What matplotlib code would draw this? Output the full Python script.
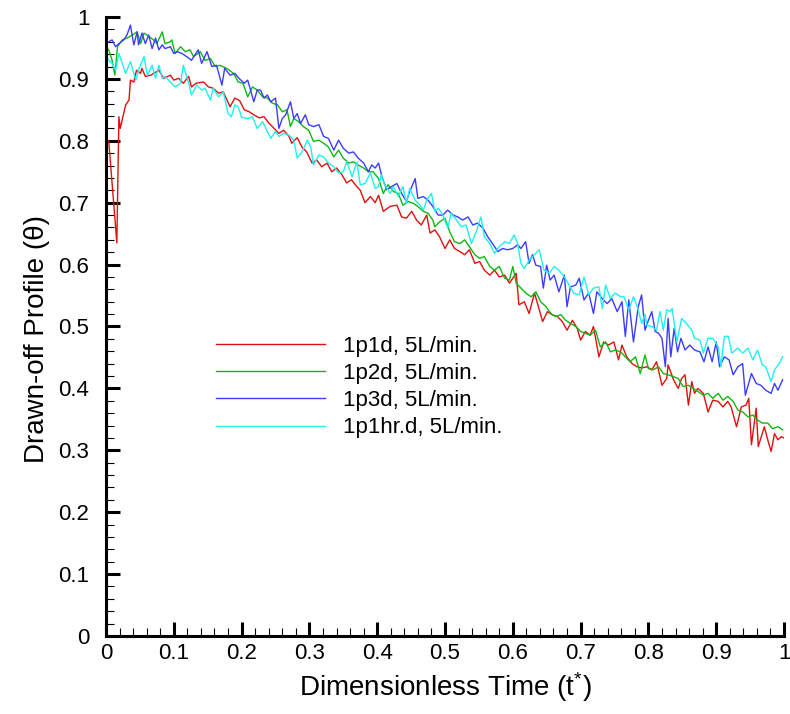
import matplotlib
matplotlib.use("Agg")
import matplotlib.pyplot as plt
from matplotlib.ticker import MultipleLocator, FuncFormatter

# -----------------------------
# DATA
# -----------------------------
t_1p1d = [0.0, 0.004, 0.016, 0.019, 0.021, 0.029, 0.034, 0.036, 0.041, 0.045,
          0.051, 0.053, 0.058, 0.066, 0.075, 0.078, 0.085, 0.095, 0.1, 0.107,
          0.114, 0.122, 0.126, 0.133, 0.144, 0.151, 0.158, 0.166, 0.173, 0.183,
          0.19, 0.197, 0.204, 0.211, 0.218, 0.226, 0.233, 0.24, 0.248, 0.255,
          0.262, 0.27, 0.274, 0.282, 0.289, 0.296, 0.304, 0.311, 0.318, 0.326,
          0.333, 0.34, 0.348, 0.355, 0.362, 0.37, 0.375, 0.382, 0.39, 0.397,
          0.402, 0.409, 0.419, 0.429, 0.436, 0.443, 0.451, 0.458, 0.465, 0.473,
          0.478, 0.485, 0.492, 0.5, 0.507, 0.514, 0.522, 0.529, 0.536, 0.544,
          0.551, 0.558, 0.566, 0.573, 0.58, 0.588, 0.595, 0.605, 0.609, 0.617,
          0.624, 0.632, 0.639, 0.644, 0.651, 0.658, 0.666, 0.673, 0.68, 0.688,
          0.695, 0.7, 0.707, 0.714, 0.719, 0.727, 0.734, 0.741, 0.749, 0.756,
          0.761, 0.768, 0.776, 0.783, 0.79, 0.798, 0.805, 0.812, 0.82, 0.827,
          0.829, 0.837, 0.844, 0.849, 0.854, 0.859, 0.864, 0.868, 0.873, 0.881,
          0.888, 0.895, 0.903, 0.91, 0.917, 0.922, 0.93, 0.937, 0.944, 0.948,
          0.952, 0.959, 0.962, 0.971, 0.976, 0.981, 0.986, 0.991, 0.996, 1.0]
y_1p1d = [0.80, 0.80, 0.635, 0.839, 0.82, 0.858, 0.866, 0.898, 0.895, 0.914,
          0.909, 0.917, 0.904, 0.906, 0.912, 0.914, 0.901, 0.906, 0.898, 0.901,
          0.893, 0.904, 0.887, 0.893, 0.895, 0.887, 0.885, 0.877, 0.879, 0.855,
          0.869, 0.865, 0.85, 0.847, 0.842, 0.837, 0.839, 0.829, 0.82, 0.812,
          0.817, 0.807, 0.796, 0.805, 0.79, 0.782, 0.764, 0.769, 0.758, 0.764,
          0.75, 0.756, 0.745, 0.732, 0.737, 0.726, 0.72, 0.70, 0.71, 0.70,
          0.712, 0.686, 0.694, 0.696, 0.677, 0.675, 0.686, 0.672, 0.664, 0.68,
          0.651, 0.656, 0.645, 0.626, 0.64, 0.626, 0.621, 0.616, 0.624, 0.602,
          0.605, 0.591, 0.583, 0.591, 0.58, 0.583, 0.57, 0.586, 0.535, 0.54,
          0.521, 0.554, 0.527, 0.508, 0.524, 0.519, 0.516, 0.508, 0.494, 0.51,
          0.497, 0.478, 0.492, 0.486, 0.50, 0.451, 0.475, 0.47, 0.475, 0.446,
          0.47, 0.451, 0.44, 0.435, 0.433, 0.435, 0.43, 0.443, 0.405, 0.416,
          0.438, 0.414, 0.40, 0.416, 0.422, 0.373, 0.411, 0.392, 0.40, 0.392,
          0.362, 0.381, 0.379, 0.37, 0.379, 0.37, 0.338, 0.37, 0.373, 0.384,
          0.309, 0.368, 0.306, 0.338, 0.317, 0.298, 0.327, 0.317, 0.322, 0.32]

t_1p2d = [0.0, 0.004, 0.009, 0.013, 0.017, 0.024, 0.031, 0.039, 0.046, 0.051,
          0.056, 0.063, 0.07, 0.075, 0.083, 0.087, 0.095, 0.097, 0.102, 0.11,
          0.117, 0.124, 0.129, 0.139, 0.146, 0.154, 0.161, 0.168, 0.178, 0.188,
          0.195, 0.202, 0.209, 0.216, 0.223, 0.231, 0.238, 0.245, 0.253, 0.26,
          0.267, 0.272, 0.277, 0.284, 0.291, 0.299, 0.306, 0.314, 0.321, 0.328,
          0.336, 0.343, 0.35, 0.358, 0.365, 0.372, 0.38, 0.387, 0.394, 0.402,
          0.409, 0.416, 0.424, 0.431, 0.438, 0.446, 0.453, 0.46, 0.468, 0.475,
          0.482, 0.485, 0.492, 0.5, 0.507, 0.514, 0.522, 0.529, 0.536, 0.544,
          0.551, 0.558, 0.566, 0.573, 0.58, 0.588, 0.595, 0.6, 0.605, 0.612,
          0.619, 0.627, 0.634, 0.641, 0.649, 0.656, 0.663, 0.671, 0.678, 0.685,
          0.693, 0.7, 0.707, 0.714, 0.722, 0.729, 0.737, 0.744, 0.751, 0.759,
          0.766, 0.773, 0.781, 0.788, 0.795, 0.8, 0.807, 0.815, 0.822, 0.829,
          0.837, 0.844, 0.851, 0.859, 0.866, 0.873, 0.881, 0.888, 0.895, 0.903,
          0.91, 0.917, 0.925, 0.932, 0.939, 0.947, 0.954, 0.961, 0.968, 0.976,
          0.983, 0.991, 0.998]
y_1p2d = [0.95, 0.947, 0.93, 0.906, 0.952, 0.963, 0.966, 0.971, 0.976, 0.957,
          0.974, 0.969, 0.963, 0.957, 0.976, 0.957, 0.96, 0.963, 0.941, 0.952,
          0.944, 0.947, 0.936, 0.944, 0.93, 0.933, 0.92, 0.922, 0.917, 0.909,
          0.895, 0.893, 0.871, 0.887, 0.882, 0.871, 0.869, 0.861, 0.858, 0.847,
          0.85, 0.823, 0.836, 0.831, 0.823, 0.817, 0.799, 0.801, 0.796, 0.79,
          0.774, 0.785, 0.772, 0.764, 0.766, 0.761, 0.756, 0.75, 0.75, 0.739,
          0.715, 0.729, 0.718, 0.715, 0.696, 0.702, 0.699, 0.694, 0.686, 0.683,
          0.672, 0.661, 0.669, 0.675, 0.653, 0.637, 0.634, 0.64, 0.629, 0.616,
          0.61, 0.613, 0.597, 0.591, 0.597, 0.578, 0.575, 0.597, 0.57, 0.562,
          0.554, 0.548, 0.556, 0.54, 0.532, 0.521, 0.516, 0.519, 0.51, 0.505,
          0.50, 0.492, 0.489, 0.486, 0.494, 0.467, 0.475, 0.459, 0.462, 0.459,
          0.451, 0.443, 0.451, 0.424, 0.454, 0.432, 0.43, 0.435, 0.424, 0.422,
          0.419, 0.416, 0.403, 0.405, 0.40, 0.395, 0.389, 0.392, 0.384, 0.392,
          0.381, 0.387, 0.379, 0.365, 0.362, 0.354, 0.357, 0.349, 0.344, 0.344,
          0.335, 0.338, 0.333]

t_1p3d = [0.0, 0.004, 0.009, 0.014, 0.019, 0.026, 0.031, 0.036, 0.041, 0.046,
          0.048, 0.053, 0.058, 0.063, 0.068, 0.073, 0.078, 0.083, 0.087, 0.095,
          0.1, 0.105, 0.112, 0.119, 0.126, 0.136, 0.141, 0.149, 0.156, 0.163,
          0.171, 0.175, 0.183, 0.19, 0.196, 0.204, 0.209, 0.214, 0.218, 0.223,
          0.228, 0.233, 0.238, 0.243, 0.25, 0.255, 0.26, 0.265, 0.272, 0.277,
          0.282, 0.287, 0.294, 0.299, 0.306, 0.314, 0.321, 0.328, 0.336, 0.343,
          0.35, 0.358, 0.365, 0.372, 0.38, 0.387, 0.392, 0.397, 0.402, 0.407,
          0.414, 0.421, 0.429, 0.436, 0.443, 0.448, 0.456, 0.46, 0.468, 0.475,
          0.482, 0.49, 0.497, 0.504, 0.512, 0.519, 0.526, 0.534, 0.541, 0.548,
          0.556, 0.563, 0.57, 0.578, 0.585, 0.592, 0.6, 0.607, 0.612, 0.619,
          0.624, 0.629, 0.634, 0.641, 0.645, 0.65, 0.655, 0.661, 0.668, 0.676,
          0.68, 0.685, 0.693, 0.698, 0.705, 0.712, 0.719, 0.724, 0.732, 0.739,
          0.746, 0.754, 0.761, 0.766, 0.771, 0.778, 0.785, 0.79, 0.795, 0.8,
          0.805, 0.81, 0.815, 0.82, 0.825, 0.829, 0.833, 0.838, 0.843, 0.848,
          0.854, 0.861, 0.868, 0.876, 0.882, 0.888, 0.894, 0.9, 0.905, 0.912,
          0.919, 0.925, 0.932, 0.939, 0.943, 0.952, 0.959, 0.966, 0.973, 0.981,
          0.986, 0.991, 0.998]
y_1p3d = [0.955, 0.96, 0.963, 0.952, 0.957, 0.963, 0.971, 0.987, 0.955, 0.976,
          0.955, 0.974, 0.957, 0.971, 0.949, 0.966, 0.947, 0.955, 0.949, 0.952,
          0.941, 0.944, 0.941, 0.936, 0.93, 0.947, 0.925, 0.944, 0.92, 0.922,
          0.89, 0.917, 0.906, 0.909, 0.901, 0.893, 0.898, 0.879, 0.863, 0.882,
          0.882, 0.869, 0.874, 0.863, 0.869, 0.82, 0.836, 0.842, 0.863, 0.836,
          0.844, 0.828, 0.842, 0.826, 0.823, 0.826, 0.807, 0.804, 0.785, 0.801,
          0.788, 0.78, 0.782, 0.772, 0.764, 0.75, 0.761, 0.756, 0.764, 0.742,
          0.721, 0.726, 0.731, 0.715, 0.702, 0.718, 0.739, 0.707, 0.71, 0.704,
          0.694, 0.68, 0.68, 0.688, 0.68, 0.677, 0.672, 0.677, 0.664, 0.667,
          0.659, 0.645, 0.634, 0.621, 0.626, 0.624, 0.626, 0.632, 0.626, 0.637,
          0.602, 0.616, 0.599, 0.597, 0.562, 0.599, 0.575, 0.583, 0.556, 0.583,
          0.532, 0.564, 0.567, 0.578, 0.543, 0.554, 0.521, 0.556, 0.545, 0.537,
          0.545, 0.524, 0.54, 0.484, 0.543, 0.475, 0.532, 0.551, 0.494, 0.51,
          0.524, 0.492, 0.489, 0.481, 0.435, 0.513, 0.451, 0.497, 0.459, 0.481,
          0.462, 0.47, 0.462, 0.459, 0.443, 0.467, 0.443, 0.475, 0.435, 0.451,
          0.446, 0.422, 0.435, 0.44, 0.389, 0.424, 0.408, 0.405, 0.397, 0.392,
          0.408, 0.397, 0.414]

t_1p1hr = [0.0, 0.004, 0.009, 0.014, 0.019, 0.024, 0.029, 0.036, 0.044, 0.048,
           0.056, 0.061, 0.068, 0.073, 0.078, 0.083, 0.087, 0.095, 0.102, 0.11,
           0.114, 0.122, 0.126, 0.134, 0.141, 0.146, 0.154, 0.158, 0.166, 0.173,
           0.18, 0.185, 0.19, 0.195, 0.2, 0.209, 0.216, 0.223, 0.231, 0.238,
           0.243, 0.25, 0.255, 0.262, 0.27, 0.277, 0.282, 0.289, 0.297, 0.302,
           0.306, 0.314, 0.321, 0.328, 0.336, 0.343, 0.35, 0.355, 0.363, 0.37,
           0.375, 0.382, 0.39, 0.397, 0.402, 0.406, 0.411, 0.419, 0.424, 0.431,
           0.438, 0.443, 0.448, 0.456, 0.463, 0.468, 0.473, 0.48, 0.485, 0.49,
           0.497, 0.504, 0.509, 0.517, 0.524, 0.531, 0.539, 0.546, 0.553, 0.558,
           0.566, 0.573, 0.58, 0.588, 0.595, 0.602, 0.607, 0.612, 0.617, 0.624,
           0.632, 0.639, 0.646, 0.654, 0.661, 0.668, 0.676, 0.683, 0.69, 0.698,
           0.705, 0.712, 0.719, 0.727, 0.732, 0.737, 0.744, 0.751, 0.759, 0.764,
           0.771, 0.778, 0.785, 0.79, 0.795, 0.798, 0.805, 0.812, 0.817, 0.822,
           0.827, 0.832, 0.835, 0.842, 0.849, 0.856, 0.864, 0.868, 0.876, 0.881,
           0.888, 0.895, 0.903, 0.907, 0.912, 0.918, 0.923, 0.932, 0.939, 0.947,
           0.954, 0.961, 0.968, 0.973, 0.981, 0.986, 0.993, 0.998]
y_1p1hr = [0.935, 0.93, 0.925, 0.914, 0.941, 0.925, 0.909, 0.928, 0.898, 0.914,
           0.936, 0.906, 0.922, 0.901, 0.922, 0.901, 0.904, 0.895, 0.887, 0.893,
           0.922, 0.893, 0.874, 0.89, 0.882, 0.885, 0.866, 0.885, 0.871, 0.879,
           0.844, 0.839, 0.858, 0.855, 0.838, 0.836, 0.839, 0.82, 0.831, 0.815,
           0.804, 0.815, 0.807, 0.812, 0.809, 0.801, 0.772, 0.782, 0.801, 0.79,
           0.761, 0.777, 0.774, 0.764, 0.758, 0.748, 0.75, 0.766, 0.742, 0.766,
           0.729, 0.731, 0.748, 0.723, 0.726, 0.745, 0.729, 0.715, 0.726, 0.71,
           0.726, 0.699, 0.723, 0.704, 0.696, 0.688, 0.704, 0.715, 0.686, 0.691,
           0.68, 0.659, 0.683, 0.672, 0.661, 0.664, 0.634, 0.653, 0.677, 0.645,
           0.634, 0.618, 0.629, 0.637, 0.634, 0.648, 0.634, 0.602, 0.594, 0.607,
           0.616, 0.624, 0.591, 0.586, 0.597, 0.591, 0.58, 0.567, 0.554, 0.551,
           0.58, 0.551, 0.562, 0.564, 0.529, 0.567, 0.545, 0.554, 0.548, 0.548,
           0.527, 0.548, 0.527, 0.505, 0.52, 0.502, 0.50, 0.494, 0.524, 0.494,
           0.527, 0.524, 0.529, 0.475, 0.513, 0.505, 0.494, 0.481, 0.478, 0.457,
           0.481, 0.481, 0.467, 0.435, 0.484, 0.484, 0.457, 0.465, 0.457, 0.465,
           0.446, 0.462, 0.438, 0.435, 0.411, 0.43, 0.44, 0.451]

labels = ["1p1d, 5L/min.", "1p2d, 5L/min.", "1p3d, 5L/min.", "1p1hr.d, 5L/min."]
colors = ["#e01010", "#10b810", "#3c3cff", "#20f0f0"]

# -----------------------------
# STYLE
# -----------------------------
plt.rcParams["font.family"] = ["Liberation Sans", "DejaVu Sans"]
plt.rcParams["mathtext.fontset"] = "custom"
plt.rcParams["mathtext.rm"] = "Liberation Sans"
plt.rcParams["mathtext.it"] = "Liberation Sans:italic"

fig = plt.figure(figsize=(7.9, 7.14), dpi=100)
ax = fig.add_axes([106 / 790, 78 / 714, 678 / 790, 619 / 714])

series = [(t_1p1d, y_1p1d), (t_1p2d, y_1p2d), (t_1p3d, y_1p3d), (t_1p1hr, y_1p1hr)]
for (t, y), lab, c in zip(series, labels, colors):
    ax.plot(t, y, color=c, lw=1.0, label=lab)

ax.set_xlim(0, 1)
ax.set_ylim(0, 1)

for side in ["top", "right"]:
    ax.spines[side].set_visible(False)
for side in ["left", "bottom"]:
    ax.spines[side].set_linewidth(2.2)

ax.xaxis.set_major_locator(MultipleLocator(0.1))
ax.yaxis.set_major_locator(MultipleLocator(0.1))
ax.xaxis.set_minor_locator(MultipleLocator(0.02))
ax.yaxis.set_minor_locator(MultipleLocator(0.02))
fmt = FuncFormatter(lambda v, p: "%g" % round(v, 2))
ax.xaxis.set_major_formatter(fmt)
ax.yaxis.set_major_formatter(fmt)

ax.tick_params(which="major", direction="in", length=10, width=2.2, labelsize=16)
ax.tick_params(which="minor", direction="in", length=6, width=0.8)
ax.tick_params(axis="y", which="major", pad=12)
ax.tick_params(axis="x", which="major", pad=5)

ax.set_xlabel("Dimensionless Time (t$^{*}$)", fontsize=20)
ax.set_ylabel("Drawn-off Profile (\u03b8)", fontsize=20)
ax.xaxis.set_label_coords(0.5, -0.056)
ax.yaxis.set_label_coords(-0.082, 0.48)

ax.legend(loc="upper left", bbox_to_anchor=(0.162, 0.485), frameon=False,
          fontsize=16, handlelength=4.9, handletextpad=0.8, labelspacing=0.28,
          borderpad=0, borderaxespad=0)

fig.savefig("out.png", dpi=100)
